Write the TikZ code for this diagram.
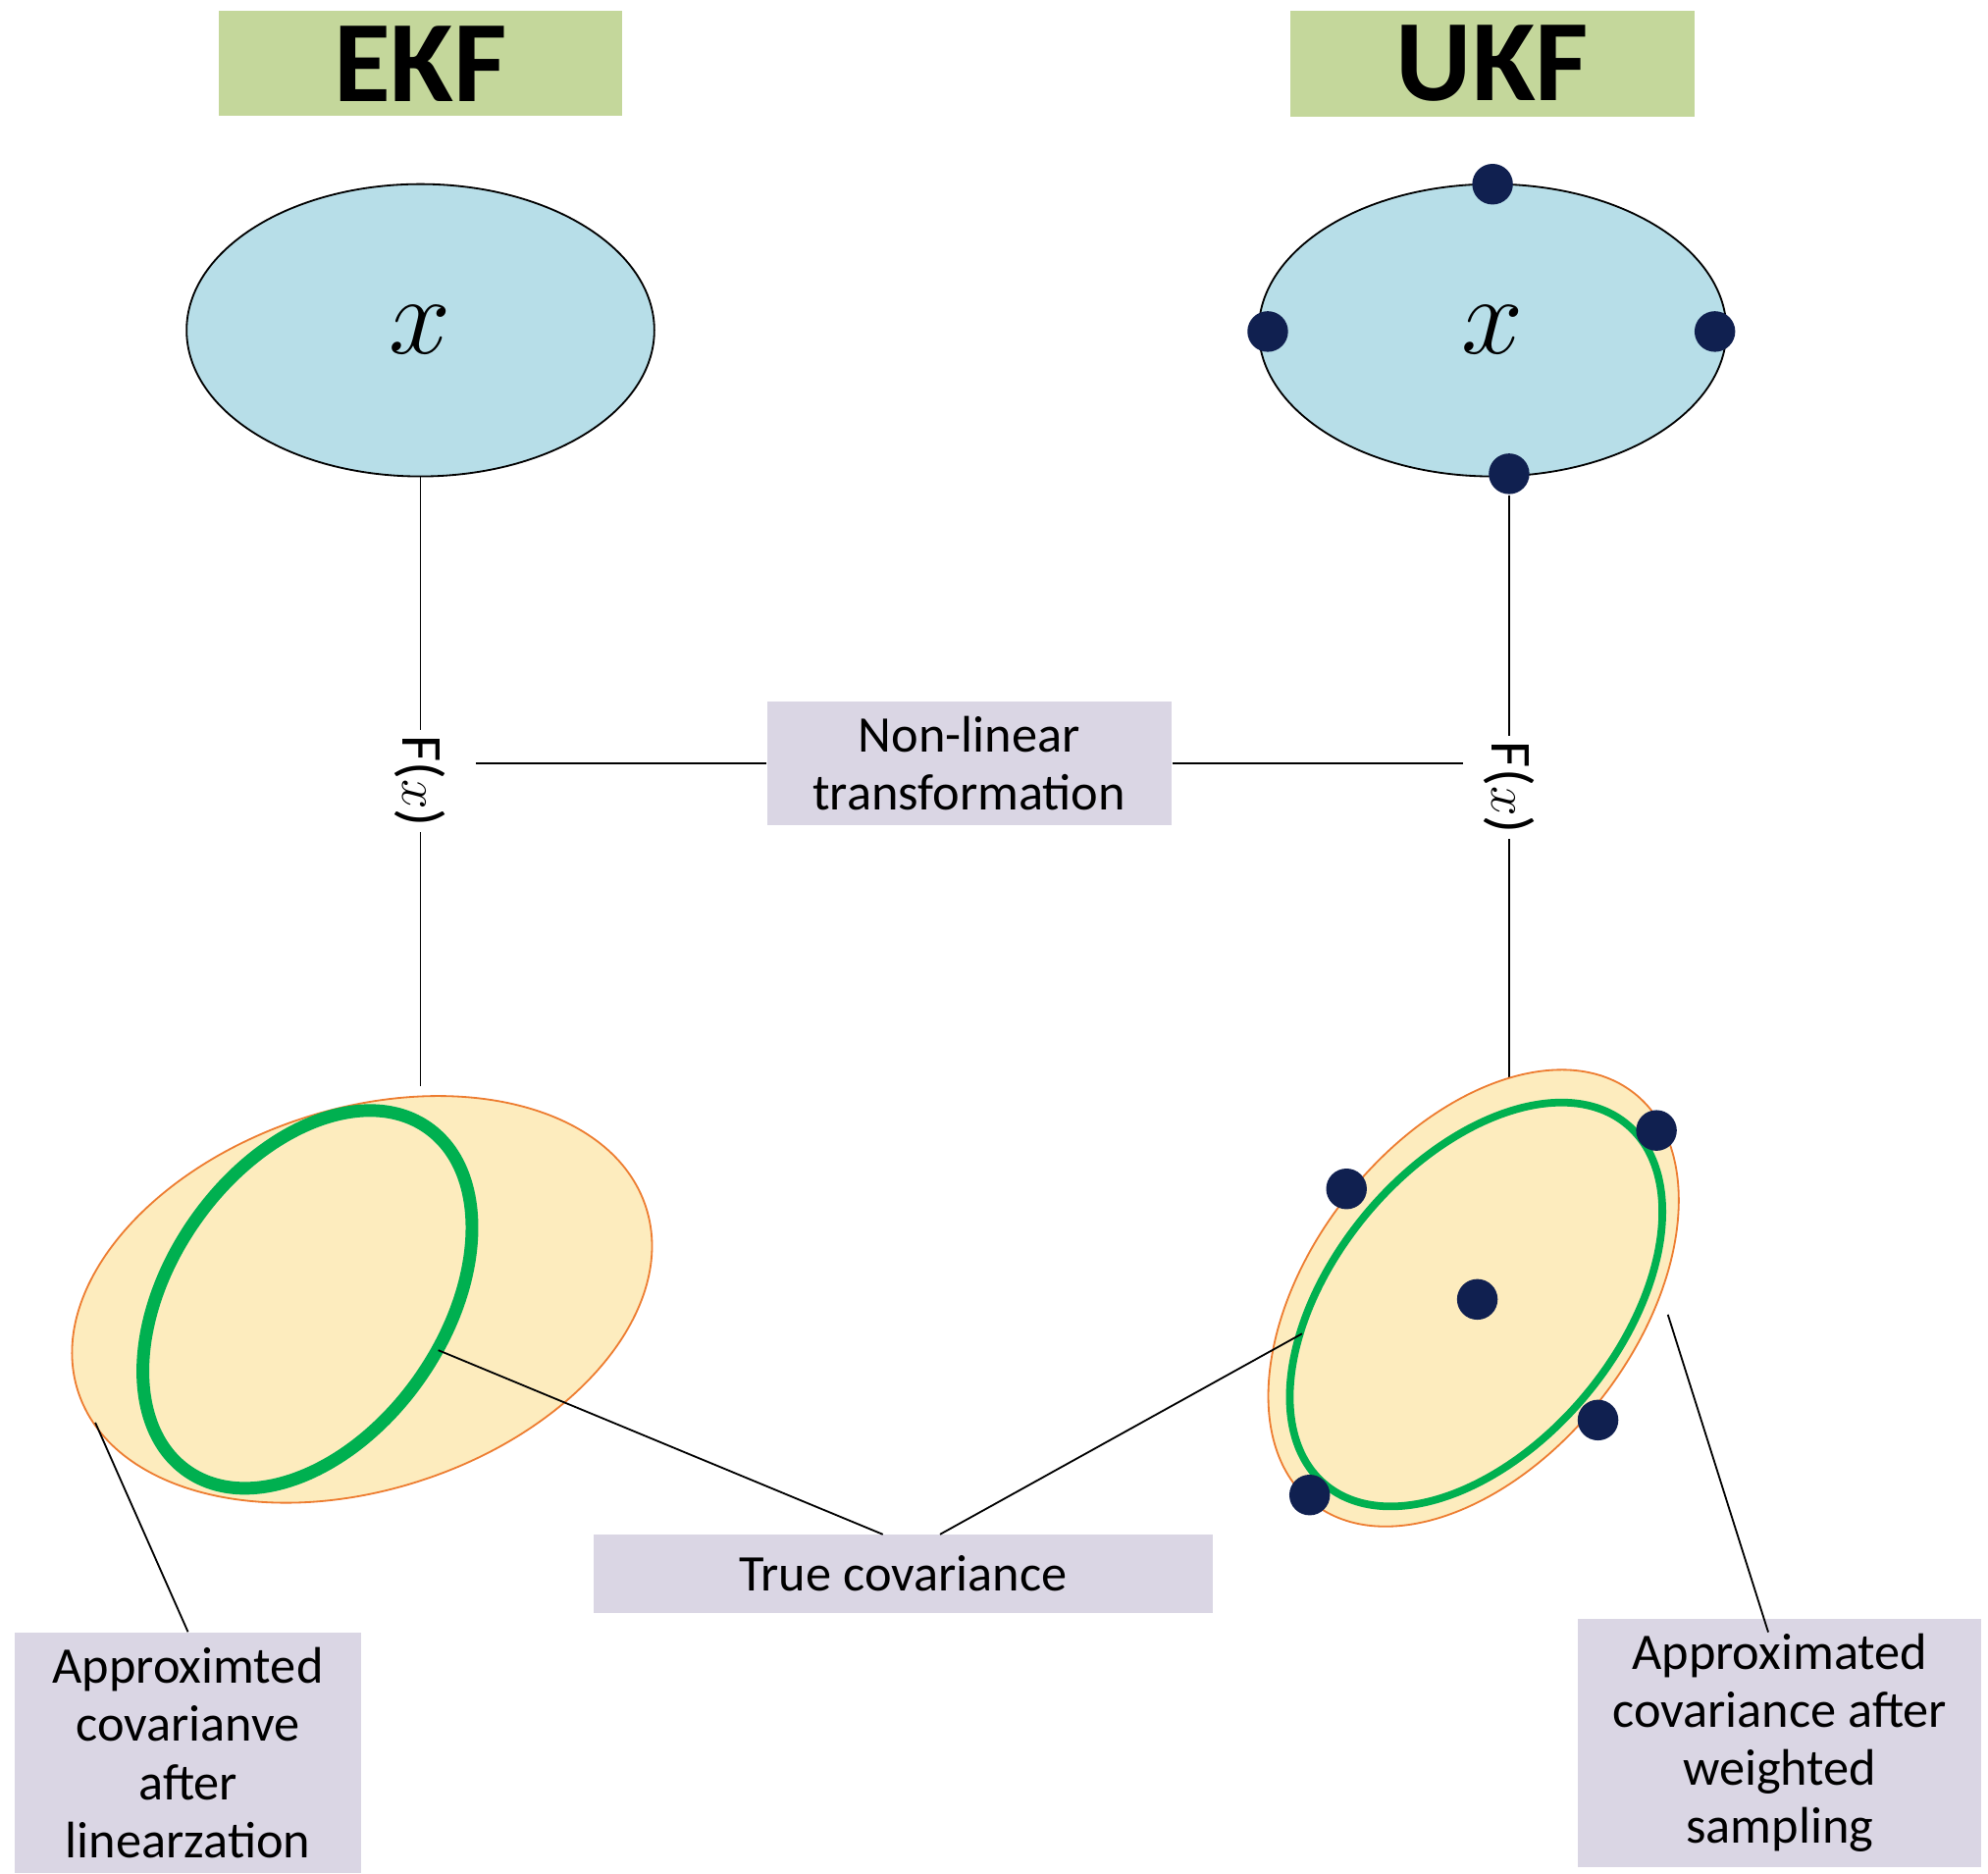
\documentclass[tikz,border=0pt]{standalone}
\usepackage{fontspec}
\setmainfont{Carlito}
\usetikzlibrary{positioning}
\usetikzlibrary{shapes.geometric}
\definecolor{titlegreen}{RGB}{196,215,155}
\definecolor{stateblue}{RGB}{183,222,232}
\definecolor{labelgray}{RGB}{218,214,228}
\definecolor{covfill}{RGB}{253,236,190}
\definecolor{covedge}{RGB}{237,125,49}
\definecolor{truegreen}{RGB}{0,176,80}
\definecolor{sigmadot}{RGB}{16,32,80}
\begin{document}
\begin{tikzpicture}[x=0.01cm,y=-0.01cm,
    title/.style={fill=titlegreen, minimum width=3.18cm, minimum height=0.8cm, font=\fontsize{26}{26}\selectfont\bfseries},
    state/.style={draw, ellipse, fill=stateblue, minimum width=3.68cm, minimum height=2.3cm, font=\fontsize{30}{30}\selectfont},
    note/.style={fill=labelgray, align=center, font=\fontsize{11.5}{13}\selectfont},
    sigma/.style={circle, fill=sigmadot, inner sep=0pt, minimum size=0.32cm},
    fx/.style={rotate=-90, fill=white, inner sep=1pt, font=\fontsize{13}{13}\selectfont}]
  \useasboundingbox (0,0) rectangle (1565,1475);
  % titles and input states
  \node[title] (ekf) at (331,50) {EKF};
  \node[title] (ukf) at (1175,50) {UKF};
  \node[state] (xekf) at (331,260) {$x$};
  \node[state] (xukf) at (1175,260) {$x$};
  \node[sigma] (s1) at (1175,145) {};
  \node[sigma] (s2) at (998,261) {};
  \node[sigma] (s3) at (1350,261) {};
  \node[sigma] (s4) at (1188,373) {};
  % transformation
  \node[fx] (fekf) at (331,615) {F($x$)};
  \node[fx] (fukf) at (1188,620) {F($x$)};
  \node[note, minimum width=3.18cm, minimum height=0.9cm] (nonlin) at (763,601) {Non-linear\\transformation};
  \coordinate (ekfend) at (331,855);
  \coordinate (ukfend) at (1188,855);
  \draw (xekf) -- (fekf) -- (ekfend);
  \draw (s4) -- (fukf) -- (ukfend);
  \draw (375,601) -- (nonlin) -- (1152,601);
  % output covariances
  \draw[covedge, fill=covfill] (285,1023) ellipse[x radius=235, y radius=150, rotate=18];
  \draw[truegreen, line width=0.1cm] (242,1023) ellipse[x radius=165, y radius=108, rotate=55];
  \draw[covedge, fill=covfill] (1160,1022) ellipse[x radius=205, y radius=128, rotate=52];
  \draw[truegreen, line width=0.06cm] (1162,1027) ellipse[x radius=185, y radius=112, rotate=50];
  \node[sigma] (t1) at (1060,936) {};
  \node[sigma] (t2) at (1304,890) {};
  \node[sigma] (t3) at (1163,1023) {};
  \node[sigma] (t4) at (1258,1118) {};
  \node[sigma] (t5) at (1031,1177) {};
  % labels
  \node[note, minimum width=4.87cm, minimum height=0.62cm] (truecov) at (711,1239) {True covariance};
  \node[note, minimum width=2.73cm, minimum height=1.73cm] (ekfcov) at (148,1380) {Approximted\\covarianve\\after\\linearzation};
  \node[note, minimum width=3.17cm, minimum height=1.75cm] (ukfcov) at (1401,1372) {Approximated\\covariance after\\weighted\\sampling};
  \coordinate (ekftrue) at (345,1063);
  \coordinate (ukftrue) at (1025,1050);
  \coordinate (ekfapp) at (75,1120);
  \coordinate (ukfapp) at (1313,1035);
  \draw (695,1208) -- (ekftrue);
  \draw (740,1208) -- (ukftrue);
  \draw (ekfcov.north) -- (ekfapp);
  \draw (1392,1285) -- (ukfapp);
\end{tikzpicture}
\end{document}
